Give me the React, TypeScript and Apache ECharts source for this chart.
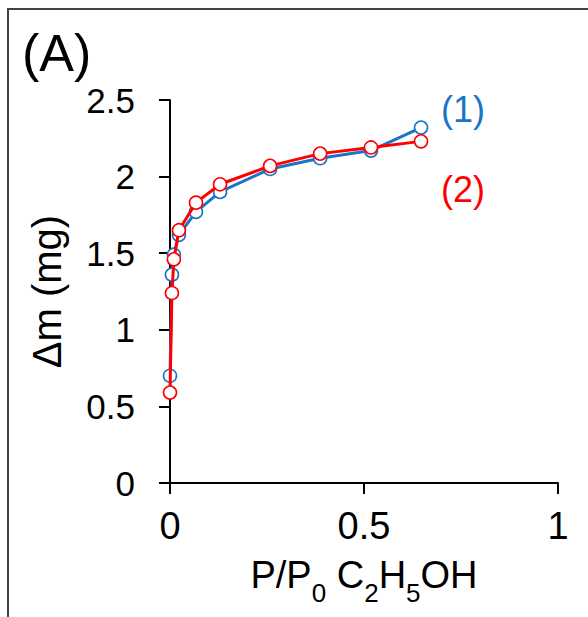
import React, { useEffect, useRef } from "react";
import * as echarts from "echarts";

const xValues = [0, 0.005, 0.01, 0.023, 0.067, 0.129, 0.258, 0.387, 0.518, 0.647];
const series1 = [0.70, 1.36, 1.49, 1.62, 1.77, 1.90, 2.05, 2.12, 2.17, 2.32];
const series2 = [0.59, 1.24, 1.46, 1.65, 1.83, 1.95, 2.07, 2.15, 2.19, 2.23];
const seriesNames = ["(1)", "(2)"];
const colors = ["#1a75c8", "#ff0000"];

const FONT = "Liberation Sans, Arial, sans-serif";

export default function App() {
  const ref = useRef<HTMLDivElement>(null);
  useEffect(() => {
    if (!ref.current) return;
    const chart = echarts.init(ref.current, null, { renderer: "svg" });
    const mk = (vals: number[], i: number) => ({
      name: seriesNames[i],
      type: "line",
      data: xValues.map((x, k) => [x, vals[k]]),
      symbol: "circle",
      symbolSize: 13,
      showSymbol: true,
      z: 2 + i,
      lineStyle: { color: colors[i], width: 3 },
      itemStyle: { color: "#fff", borderColor: colors[i], borderWidth: 1.6 },
    });
    const m = { fontSize: 38, lineHeight: 38, verticalAlign: "top", color: "#000", fontFamily: FONT };
    const s = { fontSize: 26, lineHeight: 50, verticalAlign: "bottom", color: "#000", fontFamily: FONT };
    chart.setOption({
      animation: false,
      backgroundColor: "#fff",
      textStyle: { fontFamily: FONT },
      grid: { left: 170, right: 30, top: 100, bottom: 134, containLabel: false },
      xAxis: {
        type: "value",
        min: 0,
        max: 1,
        interval: 0.5,
        splitLine: { show: false },
        axisLine: { lineStyle: { color: "#000", width: 2 } },
        axisTick: { show: true, length: 11, lineStyle: { color: "#000", width: 2 } },
        axisLabel: { color: "#000", fontSize: 38, margin: 24, fontFamily: FONT },
        name: "{m|P/P}{s|0}{m| C}{s|2}{m|H}{s|5}{m|OH}",
        nameLocation: "middle",
        nameGap: 73,
        nameTextStyle: {
          color: "#000",
          fontSize: 38,
          fontFamily: FONT,
          rich: { m, s },
        },
      },
      yAxis: {
        type: "value",
        min: 0,
        max: 2.5,
        interval: 0.5,
        splitLine: { show: false },
        axisLine: { lineStyle: { color: "#000", width: 2 } },
        axisTick: { show: true, length: 11, lineStyle: { color: "#000", width: 2 } },
        axisLabel: { color: "#000", fontSize: 35, margin: 35, fontFamily: FONT },
        name: "Δm (mg)",
        nameLocation: "middle",
        nameGap: 103,
        nameTextStyle: { color: "#000", fontSize: 40, fontFamily: FONT },
      },
      graphic: [
        { type: "line", shape: { x1: 8, y1: 9, x2: 588, y2: 9 }, style: { stroke: "#444", lineWidth: 2 } },
        { type: "line", shape: { x1: 8, y1: 8, x2: 8, y2: 617 }, style: { stroke: "#444", lineWidth: 2 } },
        { type: "text", left: 22, top: 27, style: { text: "(A)", fontSize: 52, fill: "#000", fontFamily: FONT } },
        { type: "text", left: 441, top: 91, style: { text: seriesNames[0], fontSize: 36, fill: colors[0], fontFamily: FONT } },
        { type: "text", left: 441, top: 171, style: { text: seriesNames[1], fontSize: 36, fill: colors[1], fontFamily: FONT } },
      ],
      series: [mk(series1, 0), mk(series2, 1)],
    });
    return () => chart.dispose();
  }, []);
  return (
    <div
      ref={ref}
      style={{ position: "fixed", left: 0, top: 0, width: 588, height: 617 }}
    />
  );
}
